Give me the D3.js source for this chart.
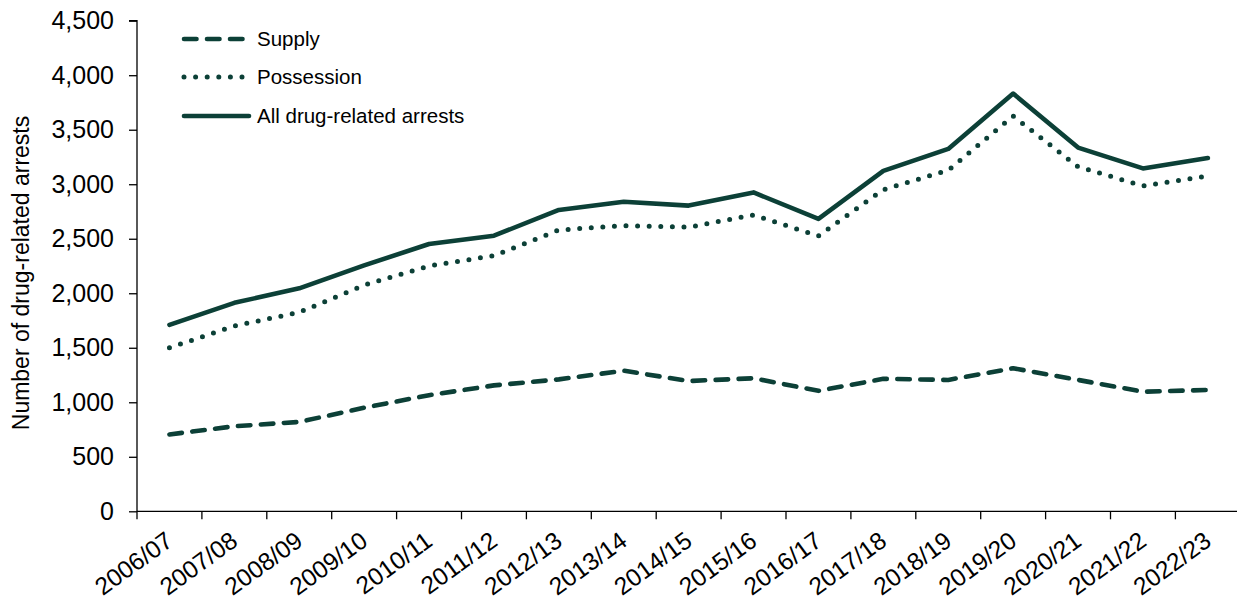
<!DOCTYPE html>
<html>
<head>
<meta charset="utf-8">
<script src="https://cdn.jsdelivr.net/npm/d3@7"></script>
<style>
  html, body { margin: 0; padding: 0; background: #fff; }
  svg { display: block; font-family: "Liberation Sans", Arial, sans-serif; }
</style>
</head>
<body>
<svg id="chart" width="1237" height="601"></svg>
<script>
// Financial years shown along the x axis
const years = ["2006/07","2007/08","2008/09","2009/10","2010/11","2011/12","2012/13","2013/14",
  "2014/15","2015/16","2016/17","2017/18","2018/19","2019/20","2020/21","2021/22","2022/23"];

// Arrest counts per year
const supply = [705, 780, 820, 950, 1065, 1155, 1210, 1290, 1195, 1220, 1105, 1215, 1205, 1312, 1205, 1097, 1113];
const possession = [1500, 1700, 1825, 2075, 2250, 2345, 2580, 2620, 2606, 2718, 2526, 2950, 3128, 3625, 3160, 2985, 3075];
const allArrests = [1710, 1912, 2045, 2255, 2452, 2528, 2764, 2840, 2804, 2925, 2682, 3122, 3324, 3832, 3336, 3145, 3241];

const yTicks = [0, 500, 1000, 1500, 2000, 2500, 3000, 3500, 4000, 4500];

const seriesList = [
  { name: "Supply", values: supply, style: "dash" },
  { name: "Possession", values: possession, style: "dot" },
  { name: "All drug-related arrests", values: allArrests, style: "solid" }
];

const ink = "#0c4037";
const svg = d3.select("#chart");

const plot = { left: 137, right: 1240.3, top: 20.7, bottom: 511.3 };

const x = d3.scaleBand().domain(years).range([plot.left, plot.right]).padding(0);
const y = d3.scaleLinear().domain([0, 4500]).range([plot.bottom, plot.top]);

function lineStyle(sel, style) {
  sel.attr("fill", "none")
     .attr("stroke", ink)
     .attr("stroke-width", 4.6)
     .attr("stroke-linejoin", "round");
  if (style === "dash") {
    sel.attr("stroke-dasharray", "12.5,10.5").attr("stroke-linecap", "round");
  } else if (style === "dot") {
    sel.attr("stroke-dasharray", "0,11.6").attr("stroke-linecap", "round").attr("stroke-width", 5);
  } else {
    sel.attr("stroke-linecap", "round");
  }
}

// Y axis
const yAxis = d3.axisLeft(y).tickValues(yTicks).tickSize(8).tickPadding(15)
  .tickFormat(d3.format(","));
const gy = svg.append("g").attr("transform", `translate(${plot.left},0)`).call(yAxis);
gy.select(".domain").attr("stroke", "#000").attr("stroke-width", 1.3)
  .attr("d", `M-8,${plot.top}H0V${plot.bottom}`);
gy.selectAll(".tick line").attr("stroke", "#000").attr("stroke-width", 1.3);
gy.selectAll(".tick text").attr("fill", "#000").attr("font-size", 25)
  .attr("font-family", "\"Liberation Sans\", Arial, sans-serif");

// X axis: ticks at band boundaries, labels at band centres
const gx = svg.append("g").attr("transform", `translate(0,${plot.bottom})`);
gx.append("line").attr("x1", plot.left).attr("x2", plot.right)
  .attr("stroke", "#000").attr("stroke-width", 1.3);
const bounds = years.map(d => x(d)).concat([plot.right]);
gx.selectAll("line.tick").data(bounds).join("line").attr("class", "tick")
  .attr("x1", d => d).attr("x2", d => d).attr("y1", 0).attr("y2", 8)
  .attr("stroke", "#000").attr("stroke-width", 1.3);
gx.selectAll("text").data(years).join("text")
  .attr("transform", d => `translate(${x(d) + x.bandwidth() / 2 + 5},${33}) rotate(-36)`)
  .attr("text-anchor", "end")
  .attr("font-size", 24.5)
  .attr("fill", "#000")
  .text(d => d);

// Y axis title
svg.append("text")
  .attr("transform", `translate(29,${(plot.top + plot.bottom) / 2 + 7}) rotate(-90)`)
  .attr("text-anchor", "middle")
  .attr("font-size", 23)
  .attr("fill", "#000")
  .text("Number of drug-related arrests");

// Series lines
const line = d3.line()
  .x((d, i) => x(years[i]) + x.bandwidth() / 2)
  .y(d => y(d));

seriesList.forEach(s => {
  svg.append("path").datum(s.values).attr("d", line).call(lineStyle, s.style);
});

// Legend
const legendY = [39, 77, 116];
const legend = svg.append("g");
seriesList.forEach((s, i) => {
  legend.append("line")
    .attr("x1", 184).attr("x2", s.style === "solid" ? 249 : 246)
    .attr("y1", legendY[i]).attr("y2", legendY[i])
    .call(lineStyle, s.style);
  legend.append("text")
    .attr("x", 257).attr("y", legendY[i])
    .attr("dy", "0.35em")
    .attr("font-size", 20.5)
    .attr("fill", "#000")
    .text(s.name);
});
</script>
</body>
</html>
